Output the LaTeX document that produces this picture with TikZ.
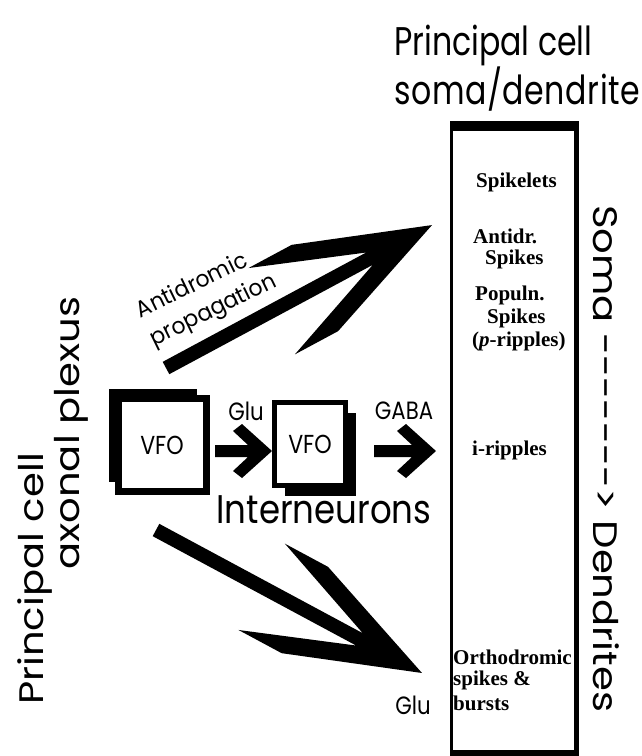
\documentclass[tikz,border=0pt]{standalone}
\usepackage{fontspec}
\setmainfont{Poppins}
\newfontfamily\gh{Poppins}[FakeStretch=0.85]
\newfontfamily\gt{Poppins}[FakeStretch=0.79]
\newfontfamily\gv{Poppins}[FakeStretch=1.18]
\newfontfamily\gd{Poppins}[FakeStretch=0.95]
\newfontfamily\serifb{Liberation Serif}
\usetikzlibrary{calc,shadows}
\begin{document}
\begin{tikzpicture}[x=1pt,y=-1pt,
  txt/.style={inner sep=0pt, font=\gh\fontsize{#1}{#1}\selectfont},
  ttxt/.style={inner sep=0pt, font=\gt\fontsize{#1}{#1}\selectfont},
  vtxt/.style={inner sep=0pt, font=\gv\fontsize{#1}{#1}\selectfont},
  coltxt/.style={inner sep=0pt, font=\serifb\bfseries\fontsize{21}{21}\selectfont},
  vfo/.style={draw=black, fill=white, inner sep=0pt, font=\gh\fontsize{26}{26}\selectfont},
  bigarrow/.pic={\fill[black] (0,-7) -- (231,-7) -- (120,-49) -- (169,-49) -- (302,0)
     -- (169,49) -- (120,49) -- (231,7) -- (0,7) -- cycle;},
  smallarrow/.pic={\fill[black] (2,0) -- (-28,-27) -- (-37,-20) -- (-22,-6) -- (-#1,-6)
     -- (-#1,6) -- (-22,6) -- (-37,20) -- (-28,27) -- cycle;}
]
\useasboundingbox (0,0) rectangle (642,756);

% titles
\node[ttxt=40, anchor=base west] (t1) at (394,55) {Principal cell};
\node[ttxt=40, anchor=base west] (t2) at (394,104) {\addfontfeature{LetterSpace=1.5}soma/dendrite};

% column
\node[draw=black, line width=3pt, minimum width=124pt, minimum height=640pt,
      inner sep=0pt, anchor=north west] (col) at (450,121) {};
\fill[black] (col.north west) rectangle ($(col.north east)+(0,10)$);
\fill[black] ($(col.south west)+(0,-14)$) rectangle (col.south east);
\draw[line width=2pt] ($(col.north east)+(1,0)$) -- ($(col.south east)+(1,0)$);

\node[coltxt, anchor=west] (c1) at (476,182) {Spikelets};
\node[coltxt, anchor=west] (c2) at (473,236) {Antidr.};
\node[coltxt, anchor=west] (c3) at (485,259) {Spikes};
\node[coltxt, anchor=west] (c4) at (475,295) {Populn.};
\node[coltxt, anchor=west] (c5) at (487,318) {Spikes};
\node[coltxt, anchor=west] (c6) at (472,341) {(\textit{p}-ripples)};
\node[coltxt, anchor=west] (c7) at (472,450) {i-ripples};
\node[coltxt, anchor=west] (c8) at (453,657) {Orthodromic};
\node[coltxt, anchor=west] (c9) at (453,680) {spikes \&};
\node[coltxt, anchor=west] (c10) at (453,703) {bursts};

% soma -> dendrites
\node[vtxt=34, rotate=-90, anchor=west] (sd) at (606,205)
  {Soma -{}-{}-{}-{}-{}-{}-{}> Dendrites};

% left labels
\node[vtxt=34, rotate=90, anchor=west] (pc) at (35,705) {Principal cell};
\node[vtxt=34, rotate=90, anchor=west] (ax) at (71,570) {axonal plexus};

% VFO boxes
\node[vfo, line width=7pt, minimum width=88pt, minimum height=93pt,
      drop shadow={shadow xshift=-9pt, shadow yshift=10pt, opacity=1, fill=black}]
      (box1) at (162,445) {VFO};
\node[vfo, line width=5pt, minimum width=71pt, minimum height=83pt,
      drop shadow={shadow xshift=10pt, shadow yshift=-10pt, opacity=1, fill=black}]
      (box2) at (310,444) {VFO};

% small arrows
\coordinate (glutip) at ($(box2.west)+(-2,7)$);
\coordinate (gabatip) at ($(col.west |- box2.west)+(-16,7)$);
\path (glutip) pic {smallarrow=55};
\path (gabatip) pic {smallarrow=60};
\node[txt=25] (glu1) at (246,411) {Glu};
\node[txt=25] (gaba) at (404,411) {GABA};
\node[txt=40, anchor=base] (inter) at (324,523) {Interneurons};

% big arrows
\coordinate (antTail) at (166,368);
\coordinate (antTip) at (434,224);
\coordinate (gluTail) at (156,530);
\coordinate (gluTip) at (422,673);
\path let \p1=($(antTip)-(antTail)$), \n1={atan2(\y1,\x1)} in
  (antTail) pic[rotate=\n1] {bigarrow};
\path let \p1=($(gluTip)-(gluTail)$), \n1={atan2(\y1,\x1)} in
  (gluTail) pic[rotate=\n1] {bigarrow};

\node[inner sep=0pt, rotate=26, align=left, font=\gd\fontsize{23}{31}\selectfont]
  (ant) at (207,297) {Antidromic\\propagation};
\node[txt=25] (glu2) at (413,705) {Glu};
\end{tikzpicture}
\end{document}
